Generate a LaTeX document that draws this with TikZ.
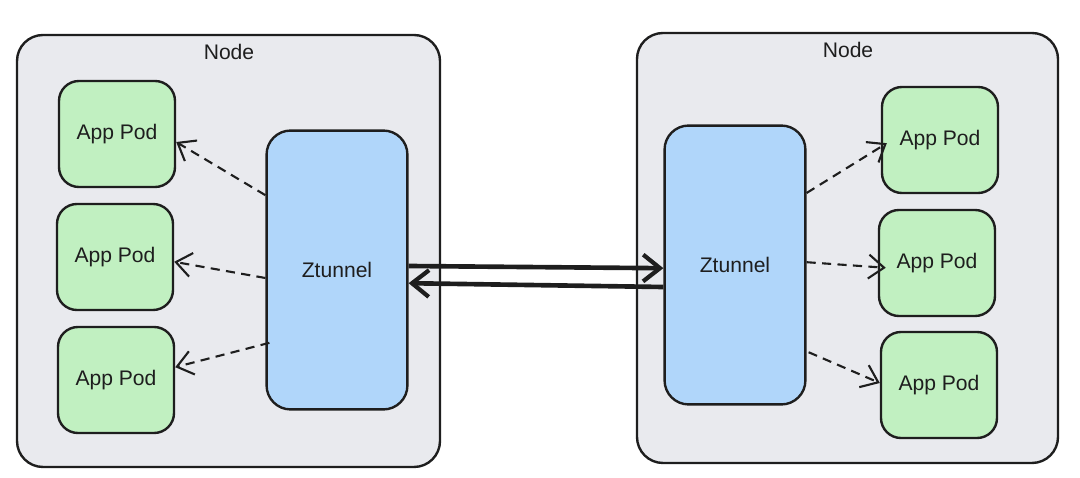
\documentclass[tikz,border=0pt]{standalone}
\usepackage{fontspec}
\setmainfont{Liberation Sans}
\usetikzlibrary{arrows.meta}

\definecolor{hostgray}{HTML}{E9EAEE}
\definecolor{podgreen}{HTML}{C1F0C1}
\definecolor{tunnelblue}{HTML}{B0D6FA}
\definecolor{inkblack}{HTML}{1E1E1E}

\tikzset{
	hostbox/.style={draw=inkblack, line width=1.7pt, fill=hostgray, rounded corners=0.65cm},
	podbox/.style={draw=inkblack, line width=1.7pt, fill=podgreen, rounded corners=0.5cm, minimum width=2.9cm, minimum height=2.65cm},
	tunnelbox/.style={draw=inkblack, line width=1.7pt, fill=tunnelblue, rounded corners=0.6cm, minimum width=3.52cm, minimum height=6.97cm},
	podlink/.style={draw=inkblack, line width=1.5pt, dash pattern=on 6.5pt off 4.5pt, -{Straight Barb[length=11pt, width=17pt, line width=1.5pt]}},
	tunnellink/.style={draw=inkblack, line width=3.3pt, -{Straight Barb[length=12pt, width=19pt, line width=3pt]}}
}

\begin{document}
\begin{tikzpicture}[x=0.025cm, y=-0.025cm, font=\fontsize{15}{18}\selectfont, text=inkblack]
		\useasboundingbox (0,0) rectangle (1080,478);
		
		% the two hosts
		\draw[hostbox] (17,35) rectangle (440,467);
		\node (titleL) at (229,52) {Node};
		\draw[hostbox] (637,33) rectangle (1058,463);
		\node (titleR) at (848,50) {Node};
		
		% left side
		\node[tunnelbox] (zl) at (337,270) {Ztunnel};
		\node[podbox] (pl1) at (117,134) {App Pod};
		\node[podbox] (pl2) at (115,257) {App Pod};
		\node[podbox] (pl3) at (116,380) {App Pod};
		
		% right side
		\node[tunnelbox] (zr) at (735,265) {Ztunnel};
		\node[podbox] (pr1) at (940,140) {App Pod};
		\node[podbox] (pr2) at (937,263) {App Pod};
		\node[podbox] (pr3) at (939,385) {App Pod};
		
		% tunnel between hosts
		\draw[tunnellink] ([yshift=0.1cm]zl.east) -- ([yshift=-0.08cm]zr.west);
		\draw[tunnellink] ([yshift=-0.55cm]zr.west) -- ([yshift=-0.33cm]zl.east);
		
		% ztunnel to pods
		\draw[podlink] ([yshift=1.87cm]zl.west) -- ([yshift=-0.2cm]pl1.east);
		\draw[podlink] ([yshift=-0.2cm]zl.west) -- ([yshift=-0.12cm]pl2.east);
		\draw[podlink] ([xshift=0.1cm, yshift=-1.82cm]zl.west) -- ([yshift=0.32cm]pl3.east);
		\draw[podlink] ([yshift=1.8cm]zr.east) -- ([xshift=0.15cm, yshift=-0.08cm]pr1.west);
		\draw[podlink] ([yshift=0.07cm]zr.east) -- ([xshift=0.2cm, yshift=-0.12cm]pr2.west);
		\draw[podlink] ([xshift=0.05cm, yshift=-2.18cm]zr.east) -- ([yshift=0.05cm]pr3.west);
	\end{tikzpicture}
\end{document}
